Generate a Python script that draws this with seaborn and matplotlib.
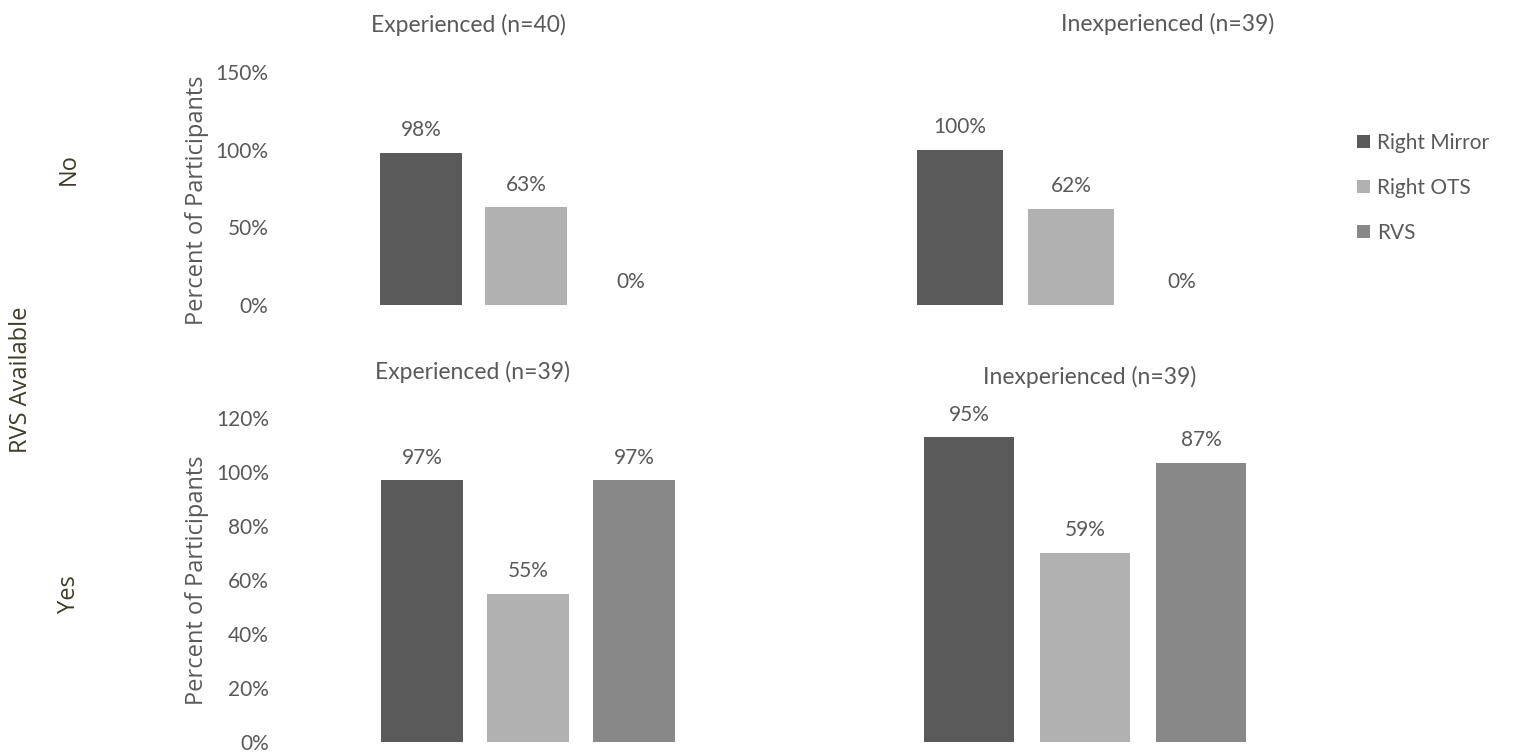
import matplotlib
matplotlib.use("Agg")
import matplotlib.pyplot as plt
import seaborn as sns
import pandas as pd
from matplotlib.patches import Patch

# Data: percent of participants who checked each location
categories = ["Right Mirror", "Right OTS", "RVS"]
experienced_no = [98, 63, 0]
inexperienced_no = [100, 62, 0]
experienced_yes = [97, 55, 97]
inexperienced_yes = [95, 59, 87]

panel_titles = ["Experienced (n=40)", "Inexperienced (n=39)",
                "Experienced (n=39)", "Inexperienced (n=39)"]
row_labels = ["No", "Yes"]
top_ticks = [0, 50, 100, 150]
bottom_ticks = [0, 20, 40, 60, 80, 100, 120]

colors = {"Right Mirror": "#5a5a5a", "Right OTS": "#b1b1b1", "RVS": "#888888"}
text_gray = "#595959"
label_dark = "#3f3b2a"

sns.set_theme(style="white")
plt.rcParams["font.family"] = ["Lato", "DejaVu Sans"]
side_font = ["Open Sans", "DejaVu Sans"]

W, H = 1514, 753
fig = plt.figure(figsize=(W / 100, H / 100), dpi=100)


def px_axes(left, right, top, bottom):
    return fig.add_axes([left / W, 1 - bottom / H, (right - left) / W, (bottom - top) / H])


def fx(x):
    return x / W


def fy(y):
    return 1 - y / H


# (left, right, top, bottom) in pixels, y-limits, tick list, values
panels = [
    ((368.5, 683.5, 72, 305), (0, 150), top_ticks, experienced_no),
    ((904.5, 1237.5, 72, 305), (0, 150), None, inexperienced_no),
    ((369, 687, 418, 742), (0, 120), bottom_ticks, experienced_yes),
    ((911, 1259, 418, 742), (0, 101), None, inexperienced_yes),
]

for (box, ylim, ticks, values) in panels:
    ax = px_axes(*box)
    df = pd.DataFrame({"location": categories, "pct": values})
    sns.barplot(data=df, x="location", y="pct", hue="location",
                palette=colors, width=0.78, legend=False, ax=ax,
                saturation=1, edgecolor="none")
    for cont, v in zip(ax.containers, values):
        ax.bar_label(cont, labels=[f"{v:.0f}%"], padding=9,
                     fontsize=15, color=text_gray)
    ax.set_xlim(-0.5, 2.5)
    ax.set_ylim(*ylim)
    ax.set_xlabel("")
    ax.set_ylabel("")
    ax.set_xticks([])
    if ticks is not None:
        ax.set_yticks(ticks)
        ax.set_yticklabels([f"{t}%" for t in ticks], fontsize=15, color=text_gray)
        ax.tick_params(axis="y", length=0, pad=72)
    else:
        ax.set_yticks([])
    for s in ax.spines.values():
        s.set_visible(False)
    ax.patch.set_alpha(0)

# Panel titles
title_pos = [(468, 25), (1168, 24), (472, 372), (1090, 377)]
for t, (x, y) in zip(panel_titles, title_pos):
    fig.text(fx(x), fy(y), t, ha="center", va="center",
             fontsize=16.5, color=text_gray)

# Y-axis titles
for y in (200, 580):
    fig.text(fx(197), fy(y), "Percent of Participants", rotation=90,
             ha="center", va="center", fontsize=17, color=text_gray,
             family=side_font)

# Row labels
fig.text(fx(69), fy(169), row_labels[0], rotation=90, ha="center", va="center",
         fontsize=17, color=label_dark, family=side_font)
fig.text(fx(69), fy(594), row_labels[1], rotation=90, ha="center", va="center",
         fontsize=17, color=label_dark, family=side_font)
fig.text(fx(21), fy(380), "RVS Available", rotation=90, ha="center", va="center",
         fontsize=17, color=label_dark, family=side_font)

# Legend
handles = [Patch(facecolor=colors[c], edgecolor="none") for c in categories]
fig.legend(handles, categories, loc="center left",
           bbox_to_anchor=(fx(1357), fy(188)), frameon=False,
           borderpad=0, borderaxespad=0,
           handlelength=0.62, handleheight=0.62, handletextpad=0.35,
           labelspacing=1.2, fontsize=15, labelcolor=text_gray)

fig.savefig("out.png", dpi=100, facecolor="white")
